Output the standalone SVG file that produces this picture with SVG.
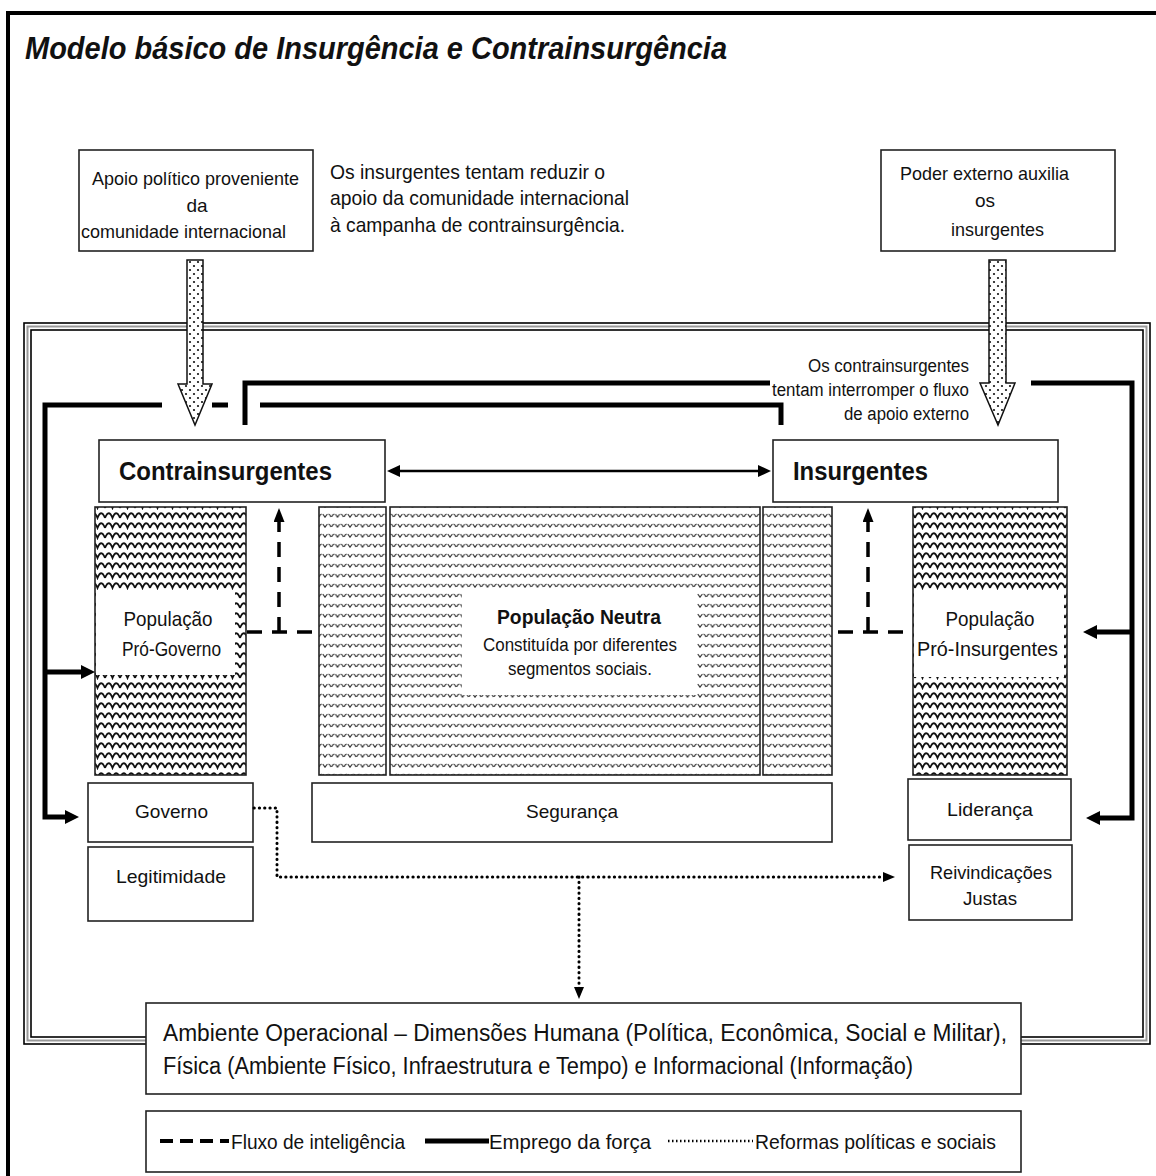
<svg xmlns="http://www.w3.org/2000/svg" width="1156" height="1176" viewBox="0 0 1156 1176">
<style>
text{font-family:"Liberation Sans",Arial,sans-serif;fill:#111}
.box{fill:#fff;stroke:#222;stroke-width:1.6}
.hatchD{fill:url(#waveD);stroke:#222;stroke-width:1.6}
.hatchL{fill:url(#waveL);stroke:#222;stroke-width:1.6}
.force{fill:none;stroke:#000;stroke-width:5}
.intel{fill:none;stroke:#000;stroke-width:3.5;stroke-dasharray:15,10}
.reform{fill:none;stroke:#000;stroke-width:3;stroke-linecap:round;stroke-dasharray:0.3,5}
.t17{font-size:19px}
.t19{font-size:21px}
</style>
<defs>
<pattern id="waveD" patternUnits="userSpaceOnUse" width="15" height="10">
<rect width="15" height="10" fill="#fff"/>
<path d="M0,8 Q3.75,-1.5 7.5,8 Q11.25,-1.5 15,8" fill="none" stroke="#111" stroke-width="1.8"/>
</pattern>
<pattern id="waveL" patternUnits="userSpaceOnUse" width="12.5" height="10">
<rect width="12.5" height="10" fill="#fff"/>
<path d="M0,7.5 Q3.125,0.5 6.25,7.5 Q9.375,0.5 12.5,7.5" fill="none" stroke="#333" stroke-width="1.2" stroke-dasharray="4,1.2"/>
</pattern>
<pattern id="dots" patternUnits="userSpaceOnUse" width="8" height="8">
<rect width="8" height="8" fill="#fff"/>
<circle cx="2" cy="2" r="1.1" fill="#111"/>
<circle cx="6" cy="6" r="1.1" fill="#111"/>
</pattern>
<marker id="ahF" markerUnits="userSpaceOnUse" markerWidth="16" markerHeight="16" refX="6" refY="8" orient="auto"><path d="M0,1 L14,8 L0,15 Z" fill="#000"/></marker>
<marker id="ahB" markerUnits="userSpaceOnUse" markerWidth="14" markerHeight="12" refX="5" refY="6" orient="auto-start-reverse"><path d="M0,0 L13,6 L0,12 Z" fill="#000"/></marker>
<marker id="ahI" markerUnits="userSpaceOnUse" markerWidth="15" markerHeight="12" refX="4" refY="5.5" orient="auto"><path d="M0,0 L14,5.5 L0,11 Z" fill="#000"/></marker>
<marker id="ahR" markerUnits="userSpaceOnUse" markerWidth="13" markerHeight="11" refX="3" refY="5" orient="auto"><path d="M0,0 L12,5 L0,10 Z" fill="#000"/></marker>
</defs>

<rect width="1156" height="1176" fill="#fff"/>
<path d="M8,1180 V13 H1160" fill="none" stroke="#000" stroke-width="4"/>
<text x="25" y="59" font-size="31" font-weight="bold" font-style="italic" textLength="702" lengthAdjust="spacingAndGlyphs">Modelo básico de Insurgência e Contrainsurgência</text>

<g id="frame">
<rect x="24" y="323" width="1126" height="721" fill="none" stroke="#000" stroke-width="1.6"/>
<rect x="27.5" y="326.5" width="1119" height="714" fill="none" stroke="#999" stroke-width="2"/>
<rect x="31" y="330" width="1112" height="707" fill="none" stroke="#000" stroke-width="1.6"/>
</g>

<g id="apoio">
<rect class="box" x="79" y="150" width="234" height="101"/>
<text class="t17" x="92" y="185" textLength="207" lengthAdjust="spacingAndGlyphs">Apoio político proveniente</text>
<text class="t17" x="197" y="212" text-anchor="middle">da</text>
<text class="t17" x="81" y="238" textLength="205" lengthAdjust="spacingAndGlyphs">comunidade internacional</text>
</g>
<g id="nota-insurgentes">
<text class="t19" x="330" y="179" textLength="275" lengthAdjust="spacingAndGlyphs">Os insurgentes tentam reduzir o</text>
<text class="t19" x="330" y="205" textLength="299" lengthAdjust="spacingAndGlyphs">apoio da comunidade internacional</text>
<text class="t19" x="330" y="232" textLength="295" lengthAdjust="spacingAndGlyphs">à campanha de contrainsurgência.</text>
</g>
<g id="poder-externo">
<rect class="box" x="881" y="150" width="234" height="101"/>
<text class="t17" x="900" y="180" textLength="169" lengthAdjust="spacingAndGlyphs">Poder externo auxilia</text>
<text class="t17" x="985" y="207" text-anchor="middle">os</text>
<text class="t17" x="951" y="236" textLength="93" lengthAdjust="spacingAndGlyphs">insurgentes</text>
</g>
<g id="nota-contra">
<text font-size="18" x="969" y="372" text-anchor="end" textLength="161" lengthAdjust="spacingAndGlyphs">Os contrainsurgentes</text>
<text font-size="18" x="969" y="396" text-anchor="end" textLength="197" lengthAdjust="spacingAndGlyphs">tentam interromper o fluxo</text>
<text font-size="18" x="969" y="420" text-anchor="end" textLength="125" lengthAdjust="spacingAndGlyphs">de apoio externo</text>
</g>

<g id="seta-apoio">
<polygon points="187,260 203,260 203,384 212,384 195,425 178,384 187,384" fill="url(#dots)" stroke="#111" stroke-width="1.5"/>
</g>
<g id="seta-poder">
<polygon points="989,260 1006,260 1006,383 1015,383 998,425 980,383 989,383" fill="url(#dots)" stroke="#111" stroke-width="1.5"/>
</g>

<g id="contrainsurgentes">
<rect class="box" x="99" y="440" width="286" height="62"/>
<text x="119" y="480" font-size="25" font-weight="bold" textLength="213" lengthAdjust="spacingAndGlyphs">Contrainsurgentes</text>
</g>
<g id="insurgentes">
<rect class="box" x="773" y="440" width="285" height="62"/>
<text x="793" y="480" font-size="25" font-weight="bold" textLength="135" lengthAdjust="spacingAndGlyphs">Insurgentes</text>
</g>

<g id="pop-pro-governo">
<rect class="hatchD" x="95" y="507" width="151" height="268"/>
<rect x="96" y="590" width="139" height="85" fill="#fff"/>
<text class="t19" x="168" y="626" text-anchor="middle" textLength="89" lengthAdjust="spacingAndGlyphs">População</text>
<text class="t19" x="122" y="656" textLength="99" lengthAdjust="spacingAndGlyphs">Pró-Governo</text>
</g>
<g id="pop-neutra">
<rect class="hatchL" x="319" y="507" width="67" height="268"/>
<rect class="hatchL" x="390" y="507" width="370" height="268"/>
<rect class="hatchL" x="763" y="507" width="69" height="268"/>
<rect x="462" y="588" width="235" height="107" fill="#fff"/>
<text x="497" y="624" font-size="21" font-weight="bold" textLength="164" lengthAdjust="spacingAndGlyphs">População Neutra</text>
<text font-size="18" x="483" y="651" textLength="194" lengthAdjust="spacingAndGlyphs">Constituída por diferentes</text>
<text font-size="18" x="508" y="675" textLength="144" lengthAdjust="spacingAndGlyphs">segmentos sociais.</text>
</g>
<g id="pop-pro-insurgentes">
<rect class="hatchD" x="913" y="507" width="154" height="268"/>
<rect x="914" y="592" width="150" height="85" fill="#fff"/>
<text class="t19" x="990" y="626" text-anchor="middle" textLength="89" lengthAdjust="spacingAndGlyphs">População</text>
<text class="t19" x="917" y="656" textLength="141" lengthAdjust="spacingAndGlyphs">Pró-Insurgentes</text>
</g>

<g id="governo">
<rect class="box" x="88" y="783" width="165" height="59"/>
<text class="t17" x="135" y="818" textLength="73" lengthAdjust="spacingAndGlyphs">Governo</text>
</g>
<g id="legitimidade">
<rect class="box" x="88" y="847" width="165" height="74"/>
<text class="t17" x="116" y="883" textLength="110" lengthAdjust="spacingAndGlyphs">Legitimidade</text>
</g>
<g id="seguranca">
<rect class="box" x="312" y="783" width="520" height="59"/>
<text class="t17" x="526" y="818" textLength="92" lengthAdjust="spacingAndGlyphs">Segurança</text>
</g>
<g id="lideranca">
<rect class="box" x="908" y="779" width="163" height="61"/>
<text class="t17" x="947" y="816" textLength="86" lengthAdjust="spacingAndGlyphs">Liderança</text>
</g>
<g id="reivindicacoes">
<rect class="box" x="909" y="845" width="163" height="75"/>
<text class="t17" x="930" y="879" textLength="122" lengthAdjust="spacingAndGlyphs">Reivindicações</text>
<text class="t17" x="963" y="905" textLength="54" lengthAdjust="spacingAndGlyphs">Justas</text>
</g>

<g id="ambiente">
<rect class="box" x="146" y="1003" width="875" height="91"/>
<text x="163" y="1041" font-size="23" textLength="844" lengthAdjust="spacingAndGlyphs">Ambiente Operacional – Dimensões Humana (Política, Econômica, Social e Militar),</text>
<text x="163" y="1074" font-size="23" textLength="750" lengthAdjust="spacingAndGlyphs">Física (Ambiente Físico, Infraestrutura e Tempo) e Informacional (Informação)</text>
</g>

<g id="legenda">
<rect class="box" x="146" y="1111" width="875" height="61"/>
<path d="M160,1141 H229" fill="none" stroke="#000" stroke-width="4" stroke-dasharray="13,7"/>
<text class="t19" x="231" y="1149" textLength="174" lengthAdjust="spacingAndGlyphs">Fluxo de inteligência</text>
<path d="M425,1141 H489" fill="none" stroke="#000" stroke-width="5"/>
<text class="t19" x="489" y="1149" textLength="162" lengthAdjust="spacingAndGlyphs">Emprego da força</text>
<path d="M668,1141 H753" fill="none" stroke="#000" stroke-width="2.5" stroke-dasharray="1.5,2.5"/>
<text class="t19" x="755" y="1149" textLength="241" lengthAdjust="spacingAndGlyphs">Reformas políticas e sociais</text>
</g>

<g id="connectors">
<path d="M395,471 H763" fill="none" stroke="#000" stroke-width="2.5" marker-start="url(#ahB)" marker-end="url(#ahB)"/>
<path class="force" d="M162,405 H45 V817 H71" marker-end="url(#ahF)"/>
<path class="force" d="M45,672 H87" marker-end="url(#ahF)"/>
<path class="force" d="M212,405 H228"/>
<path class="force" d="M245,425 V383 H770"/>
<path class="force" d="M260,405 H781 V425"/>
<path class="force" d="M1031,383 H1132 V818 H1094" marker-end="url(#ahF)"/>
<path class="force" d="M1132,632 H1091" marker-end="url(#ahF)"/>
<path class="intel" d="M247,632 H315"/>
<path class="intel" d="M279,632 V518" marker-end="url(#ahI)"/>
<path class="intel" d="M838,632 H903"/>
<path class="intel" d="M868,632 V518" marker-end="url(#ahI)"/>
<path class="reform" d="M254,808 H277 V877 H886" marker-end="url(#ahR)"/>
<path class="reform" d="M579,877 V990" marker-end="url(#ahR)"/>
</g>
</svg>
